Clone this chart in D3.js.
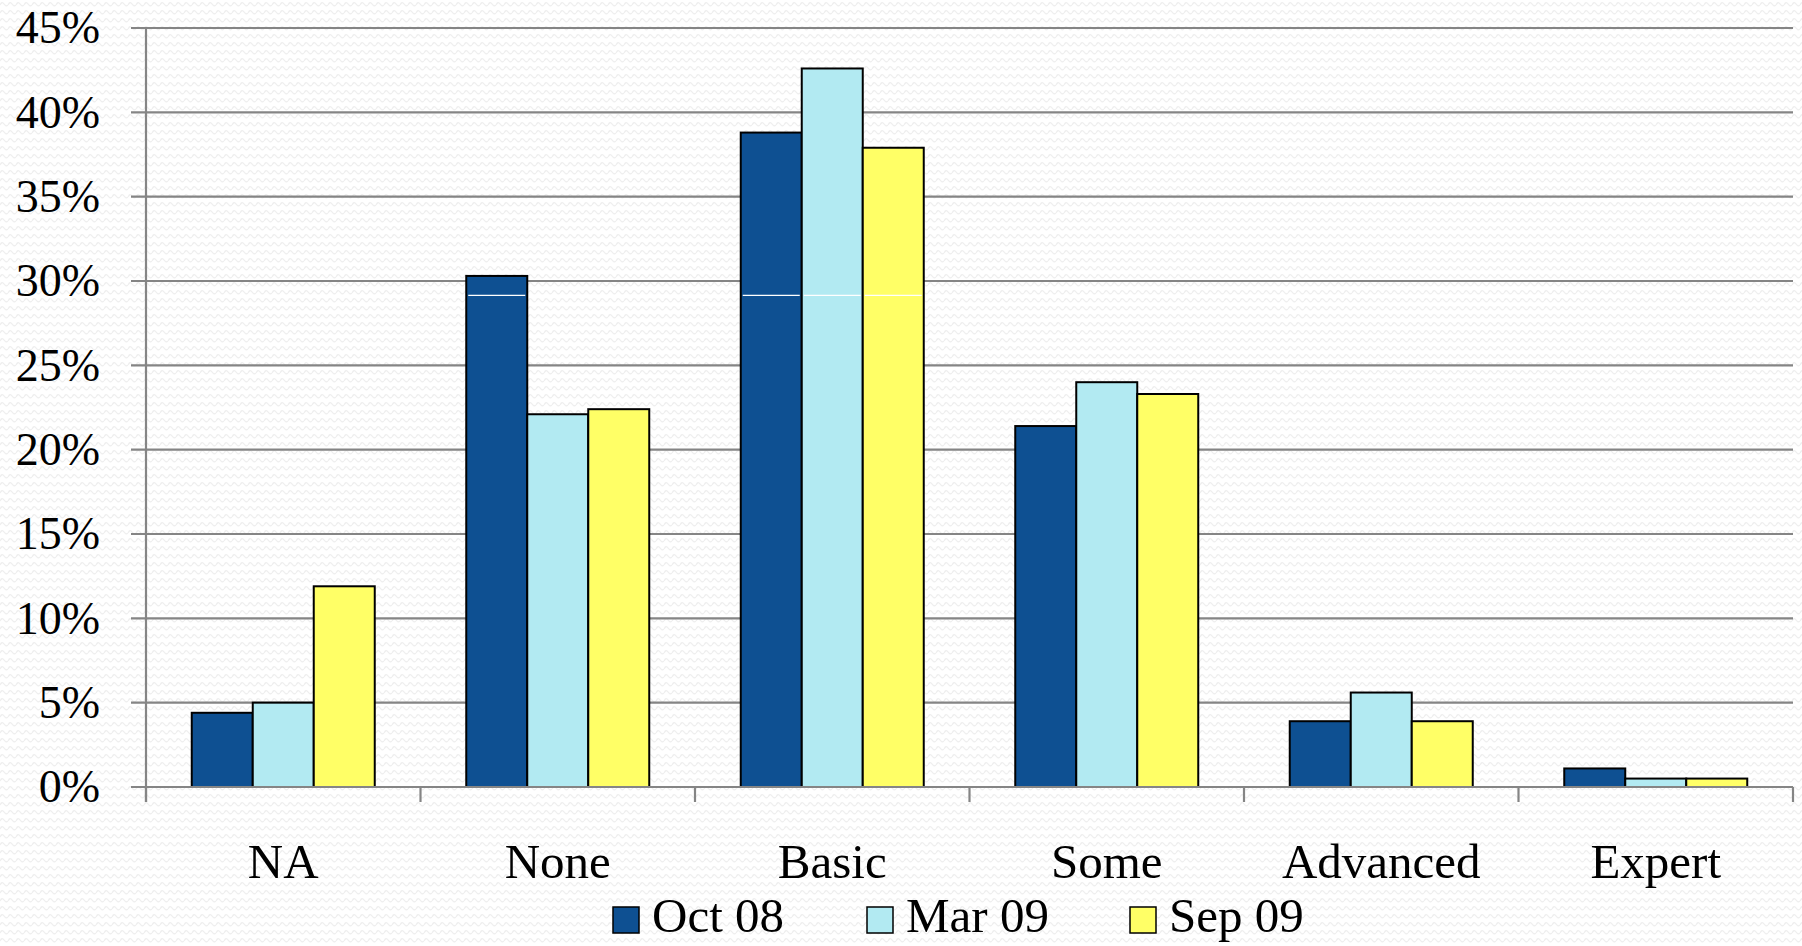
<!DOCTYPE html>
<html>
<head>
<meta charset="utf-8">
<script src="https://cdn.jsdelivr.net/npm/d3@7/dist/d3.min.js"></script>
<style>
  html, body { margin: 0; padding: 0; background: #ffffff; }
  svg { display: block; }
  text { font-family: "Liberation Serif", "DejaVu Serif", serif; font-variant-numeric: oldstyle-nums; font-feature-settings: "onum" 1; fill: #000; }
</style>
</head>
<body>
<svg id="chart" width="1802" height="946"></svg>
<script>
const categories = ["NA", "None", "Basic", "Some", "Advanced", "Expert"];
const seriesNames = ["Oct 08", "Mar 09", "Sep 09"];
const octValues = [4.4, 30.3, 38.8, 21.4, 3.9, 1.1];
const marValues = [5.0, 22.1, 42.6, 24.0, 5.6, 0.5];
const sepValues = [11.9, 22.4, 37.9, 23.3, 3.9, 0.5];
const yTicks = [0, 5, 10, 15, 20, 25, 30, 35, 40, 45];
const seriesValues = [octValues, marValues, sepValues];
const colors = ["#0E5092", "#B2EAF2", "#FFFF66"];

(function () {
const W = 1802, H = 946;
const mLeft = 146, mRight = 1793, mTop = 28, mBottom = 787;

const svg = d3.select("#chart");

// subtle wavy background pattern
const defs = svg.append("defs");
const pat = defs.append("pattern").attr("id", "wave").attr("patternUnits", "userSpaceOnUse")
  .attr("width", 8).attr("height", 8);
pat.append("rect").attr("width", 8).attr("height", 8).attr("fill", "#ffffff");
pat.append("path").attr("d", "M0,5 Q2,1 4,4 T8,5").attr("fill", "none")
  .attr("stroke", "#efefef").attr("stroke-width", 1.3);
svg.append("rect").attr("width", W).attr("height", H).attr("fill", "url(#wave)");

const x = d3.scaleBand().domain(categories).range([mLeft, mRight]).paddingInner(0).paddingOuter(0);
const xs = d3.scaleBand().domain(d3.range(seriesNames.length)).range([0, x.bandwidth()])
  .paddingInner(0).paddingOuter(0.75);
const y = d3.scaleLinear().domain([0, 45]).range([mBottom, mTop]);

const gridColor = "#858585";

// gridlines
svg.append("g").selectAll("line").data(yTicks).join("line")
  .attr("x1", mLeft - 15).attr("x2", mRight)
  .attr("y1", d => y(d)).attr("y2", d => y(d))
  .attr("stroke", gridColor).attr("stroke-width", 2.2);

// y axis line
svg.append("line").attr("x1", mLeft).attr("x2", mLeft).attr("y1", y(45)).attr("y2", y(0) + 15)
  .attr("stroke", gridColor).attr("stroke-width", 2.2);

// y labels
svg.append("g").selectAll("text").data(yTicks).join("text")
  .attr("x", 100).attr("y", d => y(d)).attr("dy", "0.33em")
  .attr("text-anchor", "end").attr("font-size", 46)
  .text(d => d + "%");

// bars
const groups = svg.append("g").selectAll("g").data(categories).join("g")
  .attr("transform", c => `translate(${x(c)},0)`);
groups.selectAll("rect").data((c, ci) => seriesValues.map((vals, si) => ({ si, v: vals[ci] })))
  .join("rect")
  .attr("x", d => xs(d.si)).attr("width", xs.bandwidth())
  .attr("y", d => y(d.v)).attr("height", d => y(0) - y(d.v))
  .attr("fill", d => colors[d.si]).attr("stroke", "#000").attr("stroke-width", 2);
// rendering seam seen on the tall bars
groups.selectAll("line.seam").data((c, ci) => seriesValues.map((vals, si) => ({ si, v: vals[ci] })).filter(d => d.v > 29.6))
  .join("line").attr("class", "seam")
  .attr("x1", d => xs(d.si) + 2).attr("x2", d => xs(d.si) + xs.bandwidth() - 2)
  .attr("y1", y(29.15)).attr("y2", y(29.15))
  .attr("stroke", "#ffffff").attr("stroke-width", 1.2);

// x axis line and ticks
svg.append("line").attr("x1", mLeft - 15).attr("x2", mRight).attr("y1", y(0)).attr("y2", y(0))
  .attr("stroke", gridColor).attr("stroke-width", 2.2);
const boundaries = categories.map(c => x(c)).concat([mRight]);
svg.append("g").selectAll("line").data(boundaries).join("line")
  .attr("x1", d => d).attr("x2", d => d).attr("y1", y(0)).attr("y2", y(0) + 15)
  .attr("stroke", gridColor).attr("stroke-width", 2.2);

// category labels
svg.append("g").selectAll("text").data(categories).join("text")
  .attr("x", c => x(c) + x.bandwidth() / 2).attr("y", 878)
  .attr("text-anchor", "middle").attr("font-size", 49)
  .text(c => c);

// legend
const legendX = [613, 867, 1130];
const legend = svg.append("g");
seriesNames.forEach((name, i) => {
  const lx = legendX[i];
  legend.append("rect").attr("x", lx).attr("y", 907).attr("width", 26).attr("height", 26)
    .attr("fill", colors[i]).attr("stroke", "#000").attr("stroke-width", 1.5);
  legend.append("text").attr("font-size", 49).attr("x", lx + 39).attr("y", 932).text(name);
});
})();
</script>
</body>
</html>
